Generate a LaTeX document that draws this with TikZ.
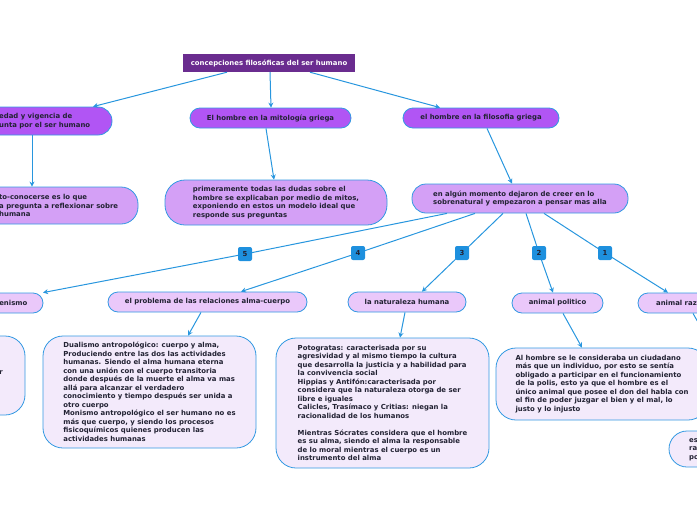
\documentclass[tikz,border=0pt]{standalone}
\usepackage{fontspec}
\setmainfont{DejaVu Sans}
\usetikzlibrary{arrows.meta}
\definecolor{rootc}{HTML}{6A2C8F}
\definecolor{lonec}{HTML}{B155F4}
\definecolor{ltwoc}{HTML}{D4A0F6}
\definecolor{lthreec}{HTML}{EAC8FA}
\definecolor{lfourc}{HTML}{F3EAFB}
\definecolor{bordc}{HTML}{3399E2}
\definecolor{arrc}{HTML}{2896DE}
\definecolor{badgec}{HTML}{1E90DE}
\definecolor{txtc}{HTML}{222233}
\tikzset{
  base/.style={inner sep=0pt, text=txtc, align=left,
    font=\fontsize{6.9}{8.5}\selectfont\bfseries},
  rootbox/.style={base, fill=rootc, text=white},
  boxone/.style={base, fill=lonec, draw=bordc, line width=0.8pt, rounded corners=10pt},
  boxtwo/.style={base, fill=ltwoc, draw=bordc, line width=0.8pt, rounded corners=17pt},
  boxthree/.style={base, fill=lthreec, draw=bordc, line width=0.8pt, rounded corners=10pt},
  boxfour/.style={base, fill=lfourc, draw=bordc, line width=0.8pt, rounded corners=20pt},
  txt/.style={base},
  badge/.style={base, fill=badgec, rounded corners=2pt, minimum width=14pt, minimum height=14pt, align=center},
  arr/.style={draw=arrc, line width=1pt, -{Stealth[length=5pt,width=5pt]}},
}
\begin{document}
\begin{tikzpicture}[x=1pt,y=-1pt]
\useasboundingbox (0,0) rectangle (697,520);
\clip (0,0) rectangle (697,520);
% root
\node[rootbox, minimum width=172pt, minimum height=18pt] (root) at (269,63) {concepciones filosóficas del ser humano};
% level 1
\node[boxone, minimum width=172pt, minimum height=28pt, rounded corners=14pt] (A) at (26,121) {};
\node[txt, anchor=west] (At) at (-1,121) {edad y vigencia de\\unta por el ser humano};
\node[boxone, minimum width=161pt, minimum height=20pt] (B) at (270.5,118) {El hombre en la mitología griega};
\node[boxone, minimum width=156pt, minimum height=20pt] (C) at (481,118) {el hombre en la filosofia griega};
% level 2
\node[boxtwo, minimum width=218pt, minimum height=37pt] (Ac) at (29,205.5) {};
\node[txt, anchor=west] (Act) at (-1,205.5) {to-conocerse es lo que\\a pregunta a reflexionar sobre\\humana};
\node[boxtwo, minimum width=222pt, minimum height=45pt, rounded corners=20pt] (Bc) at (276,202.5) {primeramente todas las dudas sobre el\\hombre se explicaban por medio de mitos,\\exponiendo en estos un modelo ideal que\\responde sus preguntas};
\node[boxtwo, minimum width=216pt, minimum height=29pt, rounded corners=14pt] (Cc) at (520,198.5) {en algún momento dejaron de creer en lo\\sobrenatural y empezaron a pensar mas alla};
% level 3
\node[boxthree, minimum width=103pt, minimum height=20pt] (Le) at (-8.5,303) {};
\node[txt, anchor=east] (Let) at (27.5,303) {enismo};
\node[boxthree, minimum width=199pt, minimum height=20pt] (Ld) at (207.5,302) {el problema de las relaciones alma-cuerpo};
\node[boxthree, minimum width=118pt, minimum height=20pt] (Ln) at (407,302) {la naturaleza humana};
\node[boxthree, minimum width=91pt, minimum height=20pt] (Lp) at (557.5,303) {animal politico};
\node[boxthree, minimum width=96pt, minimum height=20pt] (Lr) at (686,303) {animal razional};
% level 4
\node[boxfour, minimum width=125pt, minimum height=79pt] (Fa) at (-37.5,375.5) {};
\node[txt, anchor=east] (Fat) at (3,373) {r};
\node[boxfour, minimum width=213pt, minimum height=112pt] (Fd) at (149.5,392) {Dualismo antropológico: cuerpo y alma,\\Produciendo entre las dos las actividades\\humanas. Siendo el alma humana eterna\\con una unión con el cuerpo transitoria\\donde después de la muerte el alma va mas\\allá para alcanzar el verdadero\\conocimiento y tiempo después ser unida a\\otro cuerpo\\Monismo antropológico el ser humano no es\\más que cuerpo, y siendo los procesos\\fisicoquímicos quienes producen las\\actividades humanas};
\node[boxfour, minimum width=213pt, minimum height=130pt] (Fn) at (382.5,403) {Potogratas: caracterisada por su\\agresividad y al mismo tiempo la cultura\\que desarrolla la justicia y a habilidad para\\la convivencia social\\Hippias y Antifón:caracterisada por\\considera que la naturaleza otorga de ser\\libre e iguales\\Calicles, Trasímaco y Critias: niegan la\\racionalidad de los humanos\\[8.5pt]Mientras Sócrates considera que el hombre\\es su alma, siendo el alma la responsable\\de lo moral mientras el cuerpo es un\\instrumento del alma};
\node[boxfour, minimum width=212pt, minimum height=72pt] (Fp) at (602,384) {Al hombre se le consideraba un ciudadano\\más que un individuo, por esto se sentía\\obligado a participar en el funcionamiento\\de la polis, esto ya que el hombre es el\\único animal que posee el don del habla con\\el fin de poder juzgar el bien y el mal, lo\\justo y lo injusto};
\node[boxfour, minimum width=210pt, minimum height=36pt, rounded corners=18pt] (Fr) at (774,449) {};
\node[txt, anchor=west] (Frt) at (689,449.5) {es\\ra\\po};
% connectors
\draw[arr] ([xshift=-42]root.south) -- ([xshift=67]A.north);
\draw[arr] ([xshift=1]root.south) -- ([xshift=0.5]B.north);
\draw[arr] ([xshift=41]root.south) -- ([xshift=-41]C.north);
\draw[arr] ([xshift=6]A.south) -- ([xshift=3]Ac.north);
\draw[arr] ([xshift=-4.5]B.south) -- ([xshift=-2]Bc.north);
\draw[arr] ([xshift=6]C.south) -- ([xshift=-8]Cc.north);
\coordinate (b5) at (245,254);
\coordinate (b4) at (358,253);
\coordinate (b3) at (462,253);
\coordinate (b2) at (539,253);
\coordinate (b1) at (605,253);
\draw[arr] ([xshift=-73]Cc.south) -- (b5) -- ([xshift=51.5]Le.north);
\draw[arr] ([xshift=-45]Cc.south) -- (b4) -- ([xshift=33.5]Ld.north);
\draw[arr] ([xshift=-17]Cc.south) -- (b3) -- ([xshift=15]Ln.north);
\draw[arr] ([xshift=6]Cc.south) -- (b2) -- ([xshift=-4.5]Lp.north);
\draw[arr] ([xshift=24]Cc.south) -- (b1) -- ([xshift=-18]Lr.north);
\draw[arr] ([xshift=-6.5]Ld.south) -- ([xshift=38.5]Fd.north);
\draw[arr] ([xshift=-2]Ln.south) -- ([xshift=17.5]Fn.north);
\draw[arr] ([xshift=5.5]Lp.south) -- ([xshift=-20]Fp.north);
\draw[arr] ([xshift=7]Lr.south) -- ([xshift=-14]Fr.north);
% badges
\node[badge] (n5) at (b5) {5};
\node[badge] (n4) at (b4) {4};
\node[badge] (n3) at (b3) {3};
\node[badge] (n2) at (b2) {2};
\node[badge] (n1) at (b1) {1};
\end{tikzpicture}
\end{document}
